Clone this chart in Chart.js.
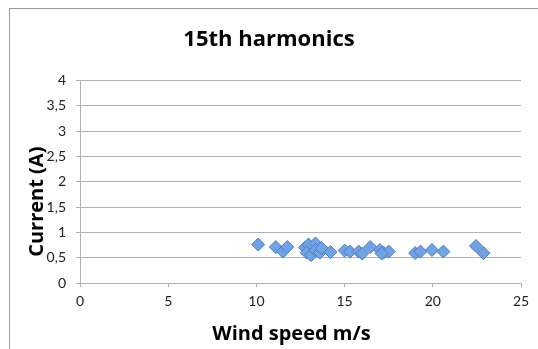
<!DOCTYPE html>
<html>
<head>
<meta charset="utf-8">
<script src="https://cdn.jsdelivr.net/npm/chart.js@4.4.0/dist/chart.umd.min.js"></script>
<style>
  body { margin: 0; background: #fff; overflow: hidden; }
  #wrap { position: relative; width: 538px; height: 349px; overflow: hidden; }
  #frame { position: absolute; left: 9px; top: 8px; width: 700px; height: 500px; border: 1px solid #999; }
  #myChart { position: absolute; left: 0; top: 0; }
</style>
</head>
<body>
<div id="wrap">
  <div id="frame"></div>
  <canvas id="myChart" width="538" height="349"></canvas>
</div>
<script>
// Datos
const windSpeed = [10.1, 11.1, 11.5, 11.75, 12.75, 12.95, 12.85, 13.1, 13.35, 13.35, 13.6, 13.7, 14.2,
    15.0, 15.3, 15.8, 16.0, 16.45, 17.0, 17.2, 17.5, 17.1, 19.0, 19.3, 19.95, 20.6, 22.45, 22.87];
const current = [0.76, 0.71, 0.62, 0.71, 0.70, 0.76, 0.60, 0.55, 0.78, 0.65, 0.60, 0.69, 0.61,
    0.64, 0.62, 0.62, 0.58, 0.71, 0.65, 0.60, 0.62, 0.58, 0.59, 0.62, 0.65, 0.62, 0.73, 0.59];
const xTicks = ['0', '5', '10', '15', '20', '25'];
const yTicks = ['0', '0,5', '1', '1,5', '2', '2,5', '3', '3,5', '4'];

const points = windSpeed.map((x, i) => ({ x: x, y: current[i] }));

// Titulos de los ejes
const axisTitles = {
    id: 'axisTitles',
    afterDraw(chart) {
        const ctx = chart.ctx;
        const a = chart.chartArea;
        ctx.save();
        ctx.fillStyle = '#000';
        ctx.font = 'bold 20px "Open Sans"';
        ctx.textAlign = 'center';
        ctx.textBaseline = 'middle';
        ctx.fillText('Wind speed m/s', (a.left + a.right) / 2 - 9, 334);
        ctx.translate(37, (a.top + a.bottom) / 2 + 20);
        ctx.rotate(-Math.PI / 2);
        ctx.fillText('Current (A)', 0, 0);
        ctx.restore();
    }
};

const config = {
    type: 'scatter',
    data: {
        datasets: [{
            label: '15th harmonics',
            data: points,
            pointStyle: 'rectRot',
            pointRadius: 6.5,
            pointHoverRadius: 6.5,
            backgroundColor: '#72a2e3',
            borderColor: '#4a7dc5',
            borderWidth: 1
        }]
    },
    options: {
        responsive: false,
        animation: false,
        devicePixelRatio: 1,
        layout: { padding: { left: 17, right: 17, top: 0, bottom: 0 } },
        plugins: {
            legend: { display: false },
            tooltip: { enabled: false },
            title: {
                display: true,
                text: '15th harmonics',
                color: '#000',
                font: { family: 'Open Sans', size: 22, weight: 'bold' },
                padding: { top: 27, bottom: 27 }
            }
        },
        scales: {
            x: {
                type: 'linear',
                min: 0,
                max: 25,
                afterFit: (s) => { s.height = 66; },
                ticks: {
                    stepSize: 5,
                    padding: 6,
                    color: '#222',
                    font: { family: 'Lato', size: 14 },
                    callback: (v) => xTicks[v / 5]
                },
                grid: { drawOnChartArea: false, drawTicks: true, tickLength: 4, color: '#b3b3b3' },
                border: { display: true, color: '#b3b3b3' }
            },
            y: {
                min: 0,
                max: 4,
                afterFit: (s) => { s.width = 63; },
                ticks: {
                    stepSize: 0.5,
                    padding: 10,
                    color: '#222',
                    font: { family: 'Lato', size: 14 },
                    callback: (v) => yTicks[Math.round(v * 2)]
                },
                grid: { drawTicks: true, tickLength: 4, color: '#b3b3b3' },
                border: { display: true, color: '#b3b3b3' }
            }
        }
    },
    plugins: [axisTitles]
};

var myChart = new Chart(document.getElementById('myChart'), config);
</script>
</body>
</html>
